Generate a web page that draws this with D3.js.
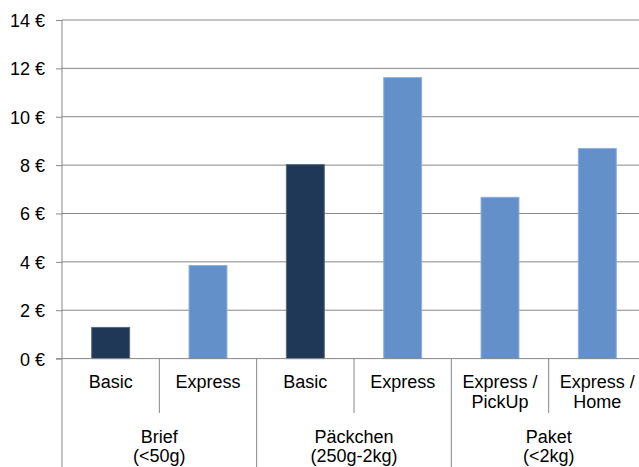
<!DOCTYPE html>
<html>
<head>
<meta charset="utf-8">
<script src="https://cdn.jsdelivr.net/npm/d3@7"></script>
<style>
  body { margin: 0; background: #fff; }
  text { font-family: "Liberation Sans", Arial, sans-serif; font-size: 18px; fill: #000; }
</style>
</head>
<body>
<svg id="chart" width="639" height="467"></svg>
<script>
// Values
const labels = [["Basic"], ["Express"], ["Basic"], ["Express"], ["Express /", "PickUp"], ["Express /", "Home"]];
const prices = [1.31, 3.87, 8.04, 11.64, 6.69, 8.71];
const kinds = ["basic", "express", "basic", "express", "express", "express"];
const groups = [["Brief", "(<50g)"], ["Päckchen", "(250g-2kg)"], ["Paket", "(<2kg)"]];
const groupSizes = [2, 2, 2];
const yTicks = [0, 2, 4, 6, 8, 10, 12, 14];

const svg = d3.select("#chart");
const marginLeft = 62, marginTop = 20, plotW = 584, plotH = 338.6;
const gridColor = "#878787";

let x = d3.scaleBand().domain(d3.range(prices.length)).range([marginLeft, marginLeft + plotW]).paddingInner(0.6).paddingOuter(0.3);
let xCat = d3.scaleBand().domain(d3.range(prices.length)).range([marginLeft, marginLeft + plotW]);
let y = d3.scaleLinear().domain([0, 14]).range([marginTop + plotH, marginTop]);

let colour = d3.scaleOrdinal().domain(["basic", "express"]).range(["#1f3858", "#6390c9"]);
let edge = d3.scaleOrdinal().domain(["basic", "express"]).range(["#5d6878", "#8fb0db"]);

// Gridlines + y labels
let yAxis = d3.axisLeft(y).tickValues(yTicks).tickSize(6).tickFormat(d => d + " €");
let gy = svg.append("g").attr("transform", `translate(${marginLeft},0)`).call(yAxis);
gy.select(".domain").remove();
gy.selectAll(".tick line").attr("stroke", gridColor);
gy.selectAll(".tick text").attr("x", -17).attr("dy", "0.36em")
  .style("font-family", '"Liberation Sans", Arial, sans-serif').style("font-size", "18px");

svg.append("g").selectAll("line").data(yTicks.filter(d => d > 0)).enter().append("line")
  .attr("x1", marginLeft).attr("x2", marginLeft + plotW)
  .attr("y1", d => y(d)).attr("y2", d => y(d))
  .attr("stroke", gridColor).attr("stroke-width", 1);

// Bars
svg.append("g").selectAll("rect").data(prices).enter().append("rect")
  .attr("x", (d, i) => x(i) + 0.5)
  .attr("width", x.bandwidth() - 1)
  .attr("y", d => y(d) + 0.5)
  .attr("height", d => y(0) - y(d) - 0.5)
  .attr("fill", (d, i) => colour(kinds[i]))
  .attr("stroke", (d, i) => edge(kinds[i]))
  .attr("stroke-width", 1);

// Category axis line
svg.append("line").attr("x1", marginLeft - 6).attr("x2", marginLeft + plotW)
  .attr("y1", y(0)).attr("y2", y(0)).attr("stroke", gridColor);
svg.append("line").attr("x1", marginLeft).attr("x2", marginLeft)
  .attr("y1", marginTop).attr("y2", 467).attr("stroke", gridColor);

// Dividers: group edges run to the bottom, inner ones stop at the first row
let groupStarts = [];
let acc = 0;
groupSizes.forEach(n => { groupStarts.push(acc); acc += n; });
d3.range(1, prices.length + 1).forEach(i => {
  let isGroupEdge = groupStarts.includes(i) || i === prices.length;
  svg.append("line")
    .attr("x1", xCat(0) + i * xCat.step()).attr("x2", xCat(0) + i * xCat.step())
    .attr("y1", y(0)).attr("y2", isGroupEdge ? 467 : 413)
    .attr("stroke", gridColor);
});

// First row labels
svg.append("g").selectAll("text").data(labels).enter().append("text")
  .attr("text-anchor", "middle")
  .attr("x", (d, i) => xCat(i) + xCat.bandwidth() / 2)
  .attr("y", 387.5)
  .each(function(d) {
    d3.select(this).selectAll("tspan").data(d).enter().append("tspan")
      .attr("x", d3.select(this).attr("x"))
      .attr("dy", (t, j) => j === 0 ? 0 : 20)
      .text(t => t);
  });

// Second row labels
svg.append("g").selectAll("text").data(groups).enter().append("text")
  .attr("text-anchor", "middle")
  .attr("x", (d, i) => xCat(groupStarts[i]) + groupSizes[i] * xCat.step() / 2)
  .attr("y", 443)
  .each(function(d) {
    d3.select(this).selectAll("tspan").data(d).enter().append("tspan")
      .attr("x", d3.select(this).attr("x"))
      .attr("dy", (t, j) => j === 0 ? 0 : 18.5)
      .text(t => t);
  });
</script>
</body>
</html>
